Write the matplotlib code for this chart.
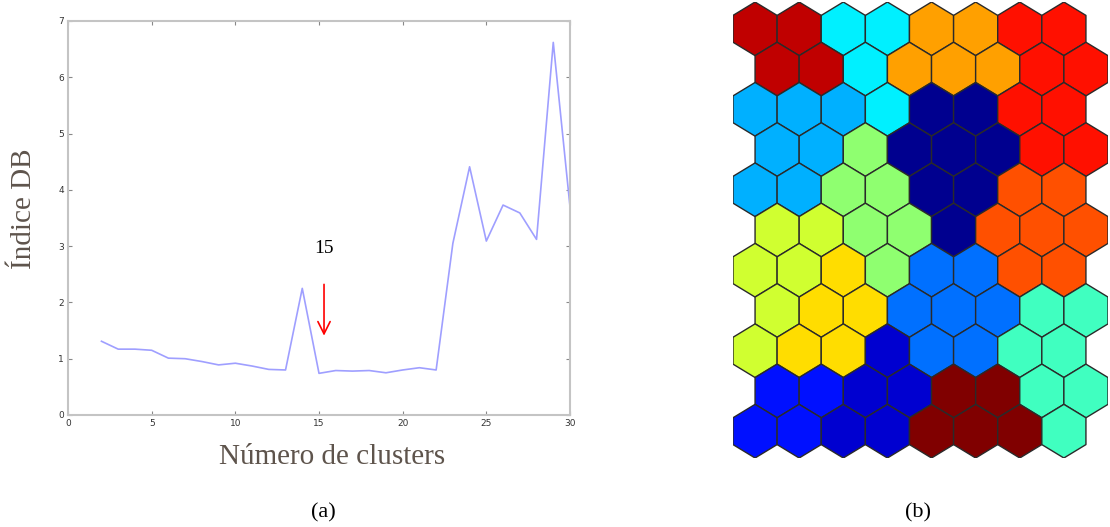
import numpy as np
import matplotlib
matplotlib.use("Agg")
import matplotlib.pyplot as plt
from matplotlib.collections import PolyCollection
from matplotlib.colors import ListedColormap

# Davies-Bouldin index against number of clusters
n_clusters = [2, 3, 4, 5, 6, 7, 8, 9, 10, 11, 12, 13, 14, 15, 16,
              17, 18, 19, 20, 21, 22, 23, 24, 25, 26, 27, 28, 29, 30]
db_index = [1.31, 1.17, 1.17, 1.15, 1.01, 1.00, 0.95, 0.89, 0.92, 0.87,
            0.81, 0.80, 2.25, 0.74, 0.79, 0.78, 0.79, 0.75, 0.80, 0.84,
            0.80, 3.05, 4.41, 3.09, 3.73, 3.59, 3.12, 6.62, 3.70]
best_k = 15

# cluster id of every unit of the 8x11 hexagonal SOM (row 0 on top)
som_clusters = [
    [13, 13, 5, 5, 10, 10, 12, 12],
    [13, 13, 5, 10, 10, 10, 12, 12],
    [4, 4, 4, 5, 0, 0, 12, 12],
    [4, 4, 7, 0, 0, 0, 12, 12],
    [4, 4, 7, 7, 0, 0, 11, 11],
    [8, 8, 7, 7, 0, 11, 11, 11],
    [8, 8, 9, 7, 3, 3, 11, 11],
    [8, 9, 9, 3, 3, 3, 6, 6],
    [8, 9, 9, 1, 3, 3, 6, 6],
    [2, 2, 1, 1, 14, 14, 6, 6],
    [2, 2, 1, 1, 14, 14, 14, 6],
]
# one colour per cluster (jet-like ramp)
cluster_colors = ["#00008f", "#0000d0", "#0010ff", "#0070ff", "#00b0ff",
                  "#00f0ff", "#40ffc0", "#8fff70", "#d0ff30", "#ffdd00",
                  "#ffa000", "#ff5000", "#ff1000", "#c00000", "#800000"]

serif = ["Liberation Serif", "DejaVu Serif"]
label_color = "#5e544c"

fig = plt.figure(figsize=(11.10, 5.27), dpi=100)

# (a) DB index curve
ax = fig.add_axes([68 / 1110, 1 - 415 / 527, 502 / 1110, 394 / 527])
ax.plot(n_clusters, db_index, color="#9f9fff", lw=1.2)
ax.set_xlim(0, 30)
ax.set_ylim(0, 7)
ax.set_xticks(range(0, 31, 5))
ax.set_yticks(range(0, 8))
ax.tick_params(direction="in", length=3, width=0.8, color="#888888",
               labelsize=6.5, labelcolor="#333333", top=True, right=True, pad=3)
for sp in ax.spines.values():
    sp.set_color("#c4c4c4")
    sp.set_linewidth(1.5)
ax.set_xlabel("Número de clusters", fontsize=21, family=serif,
              color=label_color, va="center")
ax.set_ylabel("Índice DB", fontsize=21, family=serif,
              color=label_color, va="center")
ax.xaxis.set_label_coords(0.526, -0.107)
ax.yaxis.set_label_coords(-0.088, 0.523)
ax.annotate("", xy=(best_k + 0.3, 1.36), xytext=(best_k + 0.3, 2.37),
            arrowprops=dict(arrowstyle="->", color="red", lw=1.2,
                            mutation_scale=22))
ax.text(best_k + 0.3, 2.96, str(best_k), fontsize=14, family=serif,
        color="black", ha="center", va="center")

fig.text(323 / 1110, 1 - 513 / 527, "(a)", fontsize=16, family=serif,
         ha="center", va="center")
fig.text(918 / 1110, 1 - 513 / 527, "(b)", fontsize=16, family=serif,
         ha="center", va="center")

# (b) SOM map coloured by cluster
hx = fig.add_axes([733 / 1110, 1 - 458 / 527, 375 / 1110, 456 / 527])
r = 1 / np.sqrt(3)
ang = np.pi / 2 + np.arange(6) * np.pi / 3
verts, ids = [], []
for i, row in enumerate(som_clusters):
    for j, c in enumerate(row):
        cx = j + 0.5 * (i % 2)
        cy = -i * 1.5 * r
        verts.append(np.column_stack([cx + r * np.cos(ang), cy + r * np.sin(ang)]))
        ids.append(c)
pc = PolyCollection(verts, cmap=ListedColormap(cluster_colors),
                    edgecolors="#2a2a2a", linewidths=1.0)
pc.set_array(np.array(ids))
pc.set_clim(-0.5, len(cluster_colors) - 0.5)
hx.add_collection(pc)
hx.set_xlim(-0.5, 8.0)
hx.set_ylim(-10 * 1.5 * r - r, r)
hx.axis("off")

fig.savefig("out.png", dpi=100)
